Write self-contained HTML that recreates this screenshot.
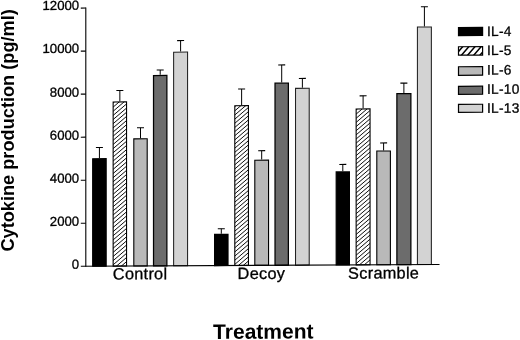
<!DOCTYPE html>
<html><head><meta charset="utf-8"><title>Cytokine production</title>
<style>
html,body{margin:0;padding:0;background:#fff;}
body{width:520px;height:340px;overflow:hidden;}
svg{display:block;filter:blur(0.35px);}
text{font-family:"Liberation Sans",Arial,Helvetica,sans-serif;fill:#000;stroke:#000;stroke-width:0.3px;}
.b{font-weight:bold;stroke-width:0;}
</style></head><body>
<svg width="520" height="340" viewBox="0 0 520 340">
<rect width="520" height="340" fill="#fff"/>
<g transform="matrix(1,-0.00514,0,1,0,0.437)">

<line x1="99.42" y1="158.17" x2="99.42" y2="147.57" stroke="#000" stroke-width="1.0"/>
<line x1="95.92" y1="147.57" x2="102.92" y2="147.57" stroke="#000" stroke-width="1.2"/>
<rect x="92.70" y="158.77" width="13.45" height="107.48" fill="#000" stroke="#000" stroke-width="1.2"/>
<line x1="119.85" y1="101.53" x2="119.85" y2="90.68" stroke="#000" stroke-width="1.0"/>
<line x1="116.35" y1="90.68" x2="123.35" y2="90.68" stroke="#000" stroke-width="1.2"/>
<rect x="113.15" y="102.08" width="13.40" height="164.17" fill="#fff"/>
<clipPath id="c1"><rect x="113.15" y="102.08" width="13.40" height="164.17"/></clipPath>
<g clip-path="url(#c1)" stroke="#000" stroke-width="0.95">
<path d="M112.15 99.78L127.55 86.69M112.15 103.93L127.55 90.84M112.15 108.08L127.55 94.99M112.15 112.23L127.55 99.14M112.15 116.38L127.55 103.29M112.15 120.53L127.55 107.44M112.15 124.68L127.55 111.59M112.15 128.83L127.55 115.74M112.15 132.98L127.55 119.89M112.15 137.13L127.55 124.04M112.15 141.28L127.55 128.19M112.15 145.43L127.55 132.34M112.15 149.58L127.55 136.49M112.15 153.73L127.55 140.64M112.15 157.88L127.55 144.79M112.15 162.03L127.55 148.94M112.15 166.18L127.55 153.09M112.15 170.33L127.55 157.24M112.15 174.48L127.55 161.39M112.15 178.63L127.55 165.54M112.15 182.78L127.55 169.69M112.15 186.93L127.55 173.84M112.15 191.08L127.55 177.99M112.15 195.23L127.55 182.14M112.15 199.38L127.55 186.29M112.15 203.53L127.55 190.44M112.15 207.68L127.55 194.59M112.15 211.83L127.55 198.74M112.15 215.98L127.55 202.89M112.15 220.13L127.55 207.04M112.15 224.28L127.55 211.19M112.15 228.43L127.55 215.34M112.15 232.58L127.55 219.49M112.15 236.73L127.55 223.64M112.15 240.88L127.55 227.79M112.15 245.03L127.55 231.94M112.15 249.18L127.55 236.09M112.15 253.33L127.55 240.24M112.15 257.48L127.55 244.39M112.15 261.63L127.55 248.54M112.15 265.78L127.55 252.69M112.15 269.93L127.55 256.84M112.15 274.08L127.55 260.99M112.15 278.23L127.55 265.14M112.15 282.38L127.55 269.29" fill="none"/>
</g>
<rect x="113.15" y="102.08" width="13.40" height="164.17" fill="none" stroke="#000" stroke-width="1.1"/>
<line x1="140.50" y1="138.55" x2="140.50" y2="128.03" stroke="#000" stroke-width="1.0"/>
<line x1="137.00" y1="128.03" x2="144.00" y2="128.03" stroke="#000" stroke-width="1.2"/>
<rect x="133.80" y="139.10" width="13.40" height="127.15" fill="#b9b9b9" stroke="#000" stroke-width="1.1"/>
<line x1="160.20" y1="75.24" x2="160.20" y2="70.39" stroke="#000" stroke-width="1.0"/>
<line x1="156.70" y1="70.39" x2="163.70" y2="70.39" stroke="#000" stroke-width="1.2"/>
<rect x="153.53" y="75.86" width="13.35" height="190.38" fill="#6c6c6c" stroke="#000" stroke-width="1.25"/>
<line x1="180.60" y1="52.09" x2="180.60" y2="41.00" stroke="#000" stroke-width="1.0"/>
<line x1="177.10" y1="41.00" x2="184.10" y2="41.00" stroke="#000" stroke-width="1.2"/>
<rect x="173.62" y="52.62" width="13.95" height="213.63" fill="#d3d3d3" stroke="#222" stroke-width="1.05"/>
<text x="140.10" y="279.55" font-size="16.3" letter-spacing="0.27" text-anchor="middle">Control</text>
<line x1="221.30" y1="234.45" x2="221.30" y2="229.45" stroke="#000" stroke-width="1.0"/>
<line x1="217.80" y1="229.45" x2="224.80" y2="229.45" stroke="#000" stroke-width="1.2"/>
<rect x="214.60" y="235.05" width="13.40" height="31.20" fill="#000" stroke="#000" stroke-width="1.2"/>
<line x1="241.62" y1="105.90" x2="241.62" y2="89.80" stroke="#000" stroke-width="1.0"/>
<line x1="238.12" y1="89.80" x2="245.12" y2="89.80" stroke="#000" stroke-width="1.2"/>
<rect x="234.80" y="106.45" width="13.65" height="159.80" fill="#fff"/>
<clipPath id="c2"><rect x="234.80" y="106.45" width="13.65" height="159.80"/></clipPath>
<g clip-path="url(#c2)" stroke="#000" stroke-width="0.95">
<path d="M233.80 104.15L249.45 90.85M233.80 108.30L249.45 95.00M233.80 112.45L249.45 99.15M233.80 116.60L249.45 103.30M233.80 120.75L249.45 107.45M233.80 124.90L249.45 111.60M233.80 129.05L249.45 115.75M233.80 133.20L249.45 119.90M233.80 137.35L249.45 124.05M233.80 141.50L249.45 128.20M233.80 145.65L249.45 132.35M233.80 149.80L249.45 136.50M233.80 153.95L249.45 140.65M233.80 158.10L249.45 144.80M233.80 162.25L249.45 148.95M233.80 166.40L249.45 153.10M233.80 170.55L249.45 157.25M233.80 174.70L249.45 161.40M233.80 178.85L249.45 165.55M233.80 183.00L249.45 169.70M233.80 187.15L249.45 173.85M233.80 191.30L249.45 178.00M233.80 195.45L249.45 182.15M233.80 199.60L249.45 186.30M233.80 203.75L249.45 190.45M233.80 207.90L249.45 194.60M233.80 212.05L249.45 198.75M233.80 216.20L249.45 202.90M233.80 220.35L249.45 207.05M233.80 224.50L249.45 211.20M233.80 228.65L249.45 215.35M233.80 232.80L249.45 219.50M233.80 236.95L249.45 223.65M233.80 241.10L249.45 227.80M233.80 245.25L249.45 231.95M233.80 249.40L249.45 236.10M233.80 253.55L249.45 240.25M233.80 257.70L249.45 244.40M233.80 261.85L249.45 248.55M233.80 266.00L249.45 252.70M233.80 270.15L249.45 256.85M233.80 274.30L249.45 261.00M233.80 278.45L249.45 265.15M233.80 282.60L249.45 269.30" fill="none"/>
</g>
<rect x="234.80" y="106.45" width="13.65" height="159.80" fill="none" stroke="#000" stroke-width="1.1"/>
<line x1="261.68" y1="160.50" x2="261.68" y2="151.65" stroke="#000" stroke-width="1.0"/>
<line x1="258.18" y1="151.65" x2="265.18" y2="151.65" stroke="#000" stroke-width="1.2"/>
<rect x="254.80" y="161.05" width="13.75" height="105.20" fill="#b9b9b9" stroke="#000" stroke-width="1.1"/>
<line x1="281.70" y1="83.60" x2="281.70" y2="66.00" stroke="#000" stroke-width="1.0"/>
<line x1="278.20" y1="66.00" x2="285.20" y2="66.00" stroke="#000" stroke-width="1.2"/>
<rect x="275.02" y="84.22" width="13.35" height="182.03" fill="#6c6c6c" stroke="#000" stroke-width="1.25"/>
<line x1="302.38" y1="88.95" x2="302.38" y2="79.60" stroke="#000" stroke-width="1.0"/>
<line x1="298.88" y1="79.60" x2="305.88" y2="79.60" stroke="#000" stroke-width="1.2"/>
<rect x="295.52" y="89.47" width="13.70" height="176.78" fill="#d3d3d3" stroke="#222" stroke-width="1.05"/>
<text x="261.43" y="279.85" font-size="16.3" letter-spacing="0.3" text-anchor="middle">Decoy</text>
<line x1="342.80" y1="172.65" x2="342.80" y2="165.80" stroke="#000" stroke-width="1.0"/>
<line x1="339.30" y1="165.80" x2="346.30" y2="165.80" stroke="#000" stroke-width="1.2"/>
<rect x="336.20" y="173.25" width="13.20" height="93.00" fill="#000" stroke="#000" stroke-width="1.2"/>
<line x1="363.10" y1="109.80" x2="363.10" y2="97.20" stroke="#000" stroke-width="1.0"/>
<line x1="359.60" y1="97.20" x2="366.60" y2="97.20" stroke="#000" stroke-width="1.2"/>
<rect x="356.15" y="110.35" width="13.90" height="155.90" fill="#fff"/>
<clipPath id="c3"><rect x="356.15" y="110.35" width="13.90" height="155.90"/></clipPath>
<g clip-path="url(#c3)" stroke="#000" stroke-width="0.95">
<path d="M355.15 108.05L371.05 94.53M355.15 112.20L371.05 98.69M355.15 116.35L371.05 102.84M355.15 120.50L371.05 106.99M355.15 124.65L371.05 111.14M355.15 128.80L371.05 115.29M355.15 132.95L371.05 119.44M355.15 137.10L371.05 123.59M355.15 141.25L371.05 127.74M355.15 145.40L371.05 131.89M355.15 149.55L371.05 136.04M355.15 153.70L371.05 140.19M355.15 157.85L371.05 144.34M355.15 162.00L371.05 148.49M355.15 166.15L371.05 152.64M355.15 170.30L371.05 156.79M355.15 174.45L371.05 160.94M355.15 178.60L371.05 165.09M355.15 182.75L371.05 169.24M355.15 186.90L371.05 173.39M355.15 191.05L371.05 177.54M355.15 195.20L371.05 181.69M355.15 199.35L371.05 185.84M355.15 203.50L371.05 189.99M355.15 207.65L371.05 194.14M355.15 211.80L371.05 198.29M355.15 215.95L371.05 202.44M355.15 220.10L371.05 206.59M355.15 224.25L371.05 210.74M355.15 228.40L371.05 214.89M355.15 232.55L371.05 219.04M355.15 236.70L371.05 223.19M355.15 240.85L371.05 227.34M355.15 245.00L371.05 231.49M355.15 249.15L371.05 235.64M355.15 253.30L371.05 239.79M355.15 257.45L371.05 243.94M355.15 261.60L371.05 248.09M355.15 265.75L371.05 252.24M355.15 269.90L371.05 256.39M355.15 274.05L371.05 260.54M355.15 278.20L371.05 264.69M355.15 282.35L371.05 268.84" fill="none"/>
</g>
<rect x="356.15" y="110.35" width="13.90" height="155.90" fill="none" stroke="#000" stroke-width="1.1"/>
<line x1="383.60" y1="152.00" x2="383.60" y2="144.50" stroke="#000" stroke-width="1.0"/>
<line x1="380.10" y1="144.50" x2="387.10" y2="144.50" stroke="#000" stroke-width="1.2"/>
<rect x="376.80" y="152.55" width="13.60" height="113.70" fill="#b9b9b9" stroke="#000" stroke-width="1.1"/>
<line x1="403.88" y1="94.70" x2="403.88" y2="84.70" stroke="#000" stroke-width="1.0"/>
<line x1="400.38" y1="84.70" x2="407.38" y2="84.70" stroke="#000" stroke-width="1.2"/>
<rect x="396.88" y="95.32" width="14.00" height="170.93" fill="#6c6c6c" stroke="#000" stroke-width="1.25"/>
<line x1="424.40" y1="28.20" x2="424.40" y2="8.50" stroke="#000" stroke-width="1.0"/>
<line x1="420.90" y1="8.50" x2="427.90" y2="8.50" stroke="#000" stroke-width="1.2"/>
<rect x="417.42" y="28.73" width="13.95" height="237.53" fill="#d3d3d3" stroke="#222" stroke-width="1.05"/>
<text x="383.65" y="280.05" font-size="16.3" letter-spacing="0.28" text-anchor="middle">Scramble</text>
<line x1="85.8" y1="7.6" x2="85.8" y2="266.75" stroke="#000" stroke-width="1.1"/>
<line x1="80.8" y1="266.25" x2="439.5" y2="266.25" stroke="#000" stroke-width="1.1"/>
<text x="79.2" y="268.75" font-size="13.2" text-anchor="end">0</text>
<line x1="80.8" y1="223.22" x2="85.8" y2="223.22" stroke="#000" stroke-width="1.1"/>
<text x="79.2" y="225.72" font-size="13.2" text-anchor="end">2000</text>
<line x1="80.8" y1="180.19" x2="85.8" y2="180.19" stroke="#000" stroke-width="1.1"/>
<text x="79.2" y="182.69" font-size="13.2" text-anchor="end">4000</text>
<line x1="80.8" y1="137.16" x2="85.8" y2="137.16" stroke="#000" stroke-width="1.1"/>
<text x="79.2" y="139.66" font-size="13.2" text-anchor="end">6000</text>
<line x1="80.8" y1="94.13" x2="85.8" y2="94.13" stroke="#000" stroke-width="1.1"/>
<text x="79.2" y="96.63" font-size="13.2" text-anchor="end">8000</text>
<line x1="80.8" y1="51.10" x2="85.8" y2="51.10" stroke="#000" stroke-width="1.1"/>
<text x="79.2" y="52.80" font-size="13.2" text-anchor="end">10000</text>
<line x1="80.8" y1="8.07" x2="85.8" y2="8.07" stroke="#000" stroke-width="1.1"/>
<text x="79.2" y="9.77" font-size="13.2" text-anchor="end">12000</text>
<rect x="458.50" y="29.50" width="24.10" height="7.95" fill="#000" stroke="#000" stroke-width="1.2"/>
<text x="487" y="38.10" font-size="13.7" letter-spacing="0.3">IL-4</text>
<rect x="458.50" y="48.65" width="24.10" height="8.45" fill="#fff"/>
<clipPath id="c4"><rect x="458.50" y="48.65" width="24.10" height="8.45"/></clipPath>
<g clip-path="url(#c4)" stroke="#000" stroke-width="1.5">
<path d="M457.50 47.50L483.60 17.48M457.50 54.60L483.60 24.58M457.50 61.70L483.60 31.68M457.50 68.80L483.60 38.78M457.50 75.90L483.60 45.88M457.50 83.00L483.60 52.98M457.50 90.10L483.60 60.08" fill="none"/>
</g>
<rect x="458.50" y="48.65" width="24.10" height="8.45" fill="none" stroke="#000" stroke-width="1.2"/>
<text x="487" y="57.20" font-size="13.7" letter-spacing="0.3">IL-5</text>
<rect x="458.50" y="68.65" width="24.10" height="8.60" fill="#b9b9b9" stroke="#000" stroke-width="1.2"/>
<text x="487" y="76.70" font-size="13.7" letter-spacing="0.3">IL-6</text>
<rect x="458.50" y="88.20" width="24.10" height="8.10" fill="#6c6c6c" stroke="#000" stroke-width="1.2"/>
<text x="487" y="95.90" font-size="13.7" letter-spacing="0.3">IL-10</text>
<rect x="458.50" y="106.30" width="24.10" height="8.00" fill="#d3d3d3" stroke="#000" stroke-width="1.2"/>
<text x="487" y="114.95" font-size="13.7" letter-spacing="0.3">IL-13</text>
<text class="b" x="263.3" y="339.6" font-size="21" text-anchor="middle">Treatment</text>
</g>
<text class="b" transform="translate(14.3,251.6) rotate(-90)" font-size="18.2">Cytokine production (pg/ml)</text>
</svg></body></html>
